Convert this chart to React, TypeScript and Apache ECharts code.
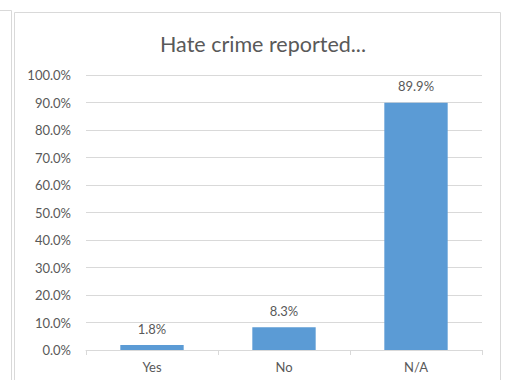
import React, { useEffect, useRef } from "react";
import * as echarts from "echarts";

const categories = ["Yes", "No", "N/A"];
const values = [1.8, 8.3, 89.9];
const yTicks = { min: 0, max: 100, interval: 10 };
const title = "Hate crime reported...";

export default function App() {
  const ref = useRef<HTMLDivElement>(null);
  useEffect(() => {
    const chart = echarts.init(ref.current!, null, { renderer: "svg" });
    const font = "Lato";
    chart.setOption({
      animation: false,
      backgroundColor: "#ffffff",
      title: {
        text: title,
        left: 258,
        textAlign: "center",
        top: 28,
        textStyle: { fontFamily: font, fontSize: 21.5, fontWeight: "normal", color: "#595959" },
      },
      graphic: [
        { type: "line", shape: { x1: 0, y1: 10.5, x2: 11.5, y2: 10.5 }, style: { stroke: "#D9D9D9", lineWidth: 1 } },
        { type: "line", shape: { x1: 11.5, y1: 10.5, x2: 11.5, y2: 380 }, style: { stroke: "#D9D9D9", lineWidth: 1 } },
        { type: "rect", shape: { x: 14.5, y: 12.5, width: 486, height: 380 }, style: { fill: "none", stroke: "#D9D9D9", lineWidth: 1 } },
      ],
      grid: { left: 86, right: 23, top: 75, bottom: 30, containLabel: false },
      xAxis: {
        type: "category",
        data: categories,
        axisLine: { lineStyle: { color: "#D9D9D9" } },
        axisTick: { show: true, length: 5, lineStyle: { color: "#D9D9D9" } },
        axisLabel: { color: "#595959", fontFamily: font, fontSize: 13, margin: 10 },
      },
      yAxis: {
        type: "value",
        min: yTicks.min,
        max: yTicks.max,
        interval: yTicks.interval,
        axisLine: { show: false },
        axisTick: { show: false },
        splitLine: { lineStyle: { color: "#D9D9D9" } },
        axisLabel: {
          color: "#595959",
          fontFamily: font,
          fontSize: 13,
          margin: 15,
          formatter: (v: number) => v.toFixed(1) + "%",
        },
      },
      series: [
        {
          type: "bar",
          data: values,
          barWidth: "48%",
          itemStyle: { color: "#5B9BD5" },
          label: {
            show: true,
            position: "top",
            distance: 10,
            color: "#595959",
            fontFamily: font,
            fontSize: 13,
            formatter: (p: any) => p.value.toFixed(1) + "%",
          },
        },
      ],
    });
    return () => chart.dispose();
  }, []);
  return <div ref={ref} style={{ position: "absolute", left: 0, top: 0, width: 505, height: 380 }} />;
}
